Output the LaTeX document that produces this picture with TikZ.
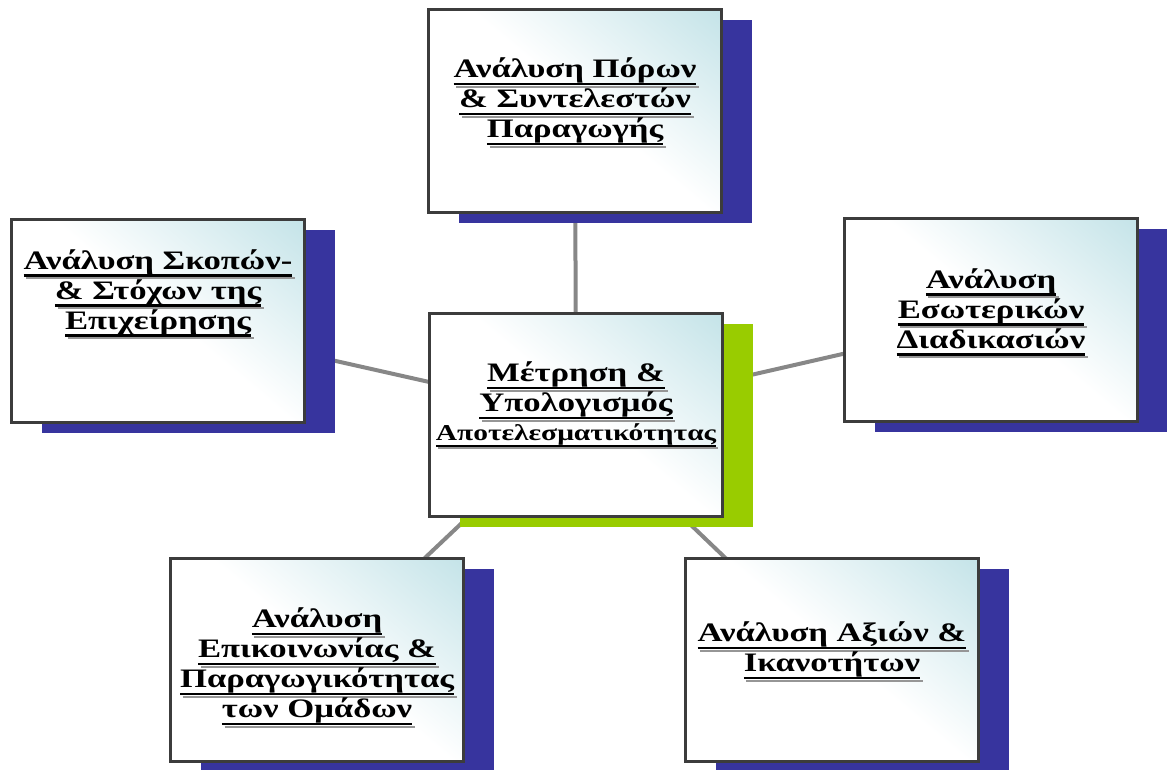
\documentclass[tikz,border=0pt]{standalone}
\usepackage{fontspec}
\newfontfamily\boxfont[FakeStretch=1.3]{Liberation Serif}
\usetikzlibrary{shadows, backgrounds}

\definecolor{shadeblue}{RGB}{55,52,158}
\definecolor{shadegreen}{RGB}{153,204,0}
\definecolor{boxteal}{RGB}{170,215,222}
\definecolor{framegray}{RGB}{60,60,60}
\definecolor{linkgray}{RGB}{135,135,135}
\definecolor{txtshade}{RGB}{150,150,150}

\pgfdeclareverticalshading{boxglow}{100bp}{color(0bp)=(white); color(52bp)=(white); color(100bp)=(boxteal)}

% underlined line, the rule with a grey drop copy behind it
\newcommand\sline[1]{\setbox0\hbox{#1}\rlap{\copy0}\rlap{\kern0.1em\color{txtshade}\rule[-0.38em]{\wd0}{0.09em}}\rule[-0.28em]{\wd0}{0.09em}}

\tikzset{
  topic/.style={draw=framegray, line width=2.25pt, minimum width=219.75pt,
    minimum height=152.25pt, inner sep=0pt, shading=boxglow, shading angle=-40,
    general shadow={fill=shadeblue, shadow xshift=22.5pt, shadow yshift=-7.5pt}},
  hub/.style={topic, general shadow={fill=shadegreen, shadow xshift=22.5pt, shadow yshift=-7.5pt}},
  lbl/.style={align=center, font=\boxfont\bfseries\fontsize{20}{22.5}\selectfont},
  link/.style={draw=linkgray, line width=3pt}
}

\begin{document}
\begin{tikzpicture}[x=0.75pt, y=-0.75pt]
  \useasboundingbox (0,0) rectangle (1167,769);

  \node[hub, label={[lbl, yshift=7pt]center:{\sline{Μέτρηση \&}\\\sline{Υπολογισμός}\\[-1pt]{\fontsize{17}{19}\selectfont\sline{Αποτελεσματικότητας}}}}] (measure) at (576,415) {};
  \node[topic, label={[lbl, yshift=6pt]center:{\sline{Ανάλυση Πόρων}\\\sline{\& Συντελεστών}\\\sline{Παραγωγής}}}] (inputs) at (575,111) {};
  \node[topic, label={[lbl, yshift=20pt]center:{\sline{Ανάλυση Σκοπών-}\\\sline{\& Στόχων της}\\\sline{Επιχείρησης}}}] (goals) at (158,321) {};
  \node[topic, label={[lbl, yshift=5pt]center:{\sline{Ανάλυση}\\\sline{Εσωτερικών}\\\sline{Διαδικασιών}}}] (process) at (991,320) {};
  \node[topic, label={[lbl, yshift=-6pt]center:{\sline{Ανάλυση}\\\sline{Επικοινωνίας \&}\\\sline{Παραγωγικότητας}\\\sline{των Ομάδων}}}] (teams) at (317,660) {};
  \node[topic, label={[lbl, yshift=6pt]center:{\sline{Ανάλυση Αξιών \&}\\\sline{Ικανοτήτων}}}] (skills) at (832,660) {};

  \begin{scope}[on background layer]
    \foreach \n in {inputs, goals, process, teams, skills}
      \draw[link] (measure.center) -- (\n.center);
  \end{scope}
\end{tikzpicture}
\end{document}
